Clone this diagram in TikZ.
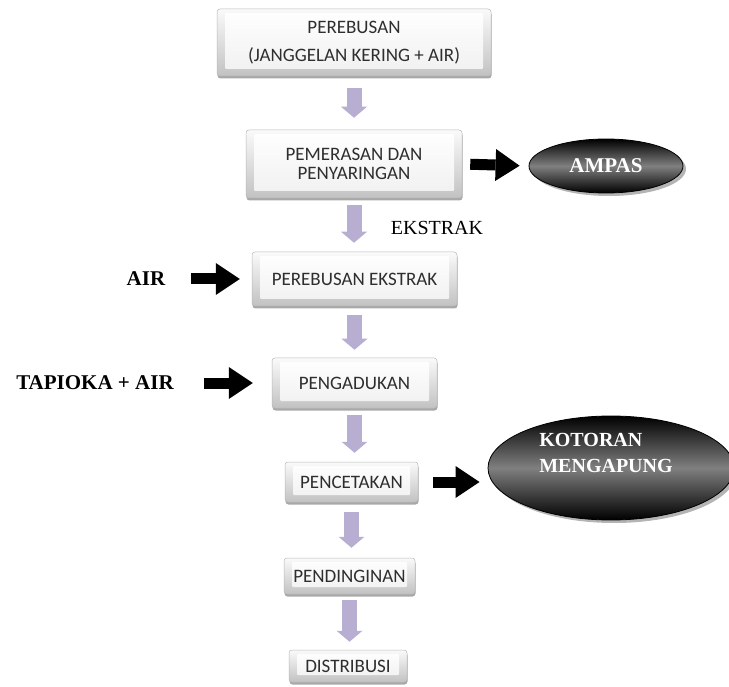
\documentclass[tikz,border=0pt]{standalone}
\usepackage{fontspec}
\setmainfont{Liberation Serif}
\newfontfamily\calfont{Carlito}
\usetikzlibrary{shadows,arrows.meta,calc,shapes.geometric}
\definecolor{lav}{RGB}{184,174,210}
\begin{document}
\begin{tikzpicture}[x=1pt,y=-1pt,
  bevelbox/.style={rounded corners=3pt, top color=gray!4, bottom color=gray!48,
    draw=gray!55, line width=0.5pt,
    drop shadow={shadow xshift=0.5pt, shadow yshift=-2.5pt, fill=gray!75, opacity=0.9},
    font=\calfont\fontsize{19}{19}\selectfont, text=black!82, align=center, inner sep=0pt,
    path picture={\shade[top color=white, bottom color=gray!12, rounded corners=1pt]
      ([shift={(8pt,7pt)}]path picture bounding box.south west) rectangle
      ([shift={(-8pt,-4pt)}]path picture bounding box.north east);}},
  darkell/.style={ellipse, draw=black, line width=0.8pt, top color=black, bottom color=black,
    middle color=black!50, text=white, inner sep=0pt,
    drop shadow={shadow xshift=3pt, shadow yshift=-3pt, fill=gray!65, opacity=0.9}},
  sidetext/.style={font=\bfseries\fontsize{21}{24}\selectfont, inner sep=3pt},
  downarr/.style={draw=lav, line width=15pt, -{Triangle[length=11pt, width=26pt, line width=0pt]}},
  blk/.style={draw=black, line width=11pt, -{Triangle[length=24pt, width=32pt, line width=0pt]}}
]
\useasboundingbox (0,0) rectangle (729,687);

\node[bevelbox, minimum width=274pt, minimum height=67pt] (b1) at (354,42.5)
  {PEREBUSAN\\[9pt](JANGGELAN KERING + AIR)};
\node[bevelbox, minimum width=216pt, minimum height=68pt] (b2) at (354,164)
  {PEMERASAN DAN\\PENYARINGAN};
\node[bevelbox, minimum width=205pt, minimum height=54pt] (b3) at (354.5,279)
  {PEREBUSAN EKSTRAK};
\node[bevelbox, minimum width=165pt, minimum height=50pt] (b4) at (354.5,383)
  {PENGADUKAN};
\node[bevelbox, minimum width=133pt, minimum height=40pt] (b5) at (351.5,482)
  {PENCETAKAN};
\node[bevelbox, minimum width=131pt, minimum height=36pt] (b6) at (349.5,576)
  {PENDINGINAN};
\node[bevelbox, minimum width=118pt, minimum height=32pt] (b7) at (348,666)
  {DISTRIBUSI};

\node[darkell, minimum width=154pt, minimum height=54pt,
  font=\bfseries\fontsize{21}{24}\selectfont] (ampas) at (606,166) {AMPAS};
\node[darkell, minimum width=246pt, minimum height=104pt] (kot) at (611,468) {};
\node[align=left, text=white, font=\bfseries\fontsize{20}{26}\selectfont, inner sep=0pt]
  (kottext) at (606,453) {KOTORAN\\MENGAPUNG};

\node[sidetext] (air) at (146,279) {AIR};
\node[sidetext] (tap) at (95,383) {TAPIOKA + AIR};
\node[font=\fontsize{20}{24}\selectfont] (eks) at (437,228) {EKSTRAK};

\draw[downarr, shorten <=12pt, shorten >=12pt] (b1.south) -- (b1.south |- b2.north);
\draw[downarr, shorten <=7pt, shorten >=9pt] (b2.south) -- (b2.south |- b3.north);
\draw[downarr, shorten <=9pt, shorten >=8pt] (b3.south) -- (b3.south |- b4.north);
\draw[downarr, shorten <=7pt, shorten >=9pt] (b4.south) -- (b4.south |- b5.north);
\draw[downarr, shorten <=10pt, shorten >=10pt] (b5.south) -- (b5.south |- b6.north);
\draw[downarr, shorten <=6pt, shorten >=8pt] (b6.south) -- (b6.south |- b7.north);

\draw[blk, shorten <=8pt, shorten >=9pt] (b2.east) -- (ampas.west);
\draw[blk, shorten <=23pt, shorten >=12pt] (air.east) -- (b3.west);
\draw[blk, shorten <=27pt, shorten >=19pt] (tap.east) -- (b4.west);
\draw[blk, shorten <=15pt, shorten >=8pt] (b5.east) -- (b5.east -| kot.west);
\end{tikzpicture}
\end{document}
